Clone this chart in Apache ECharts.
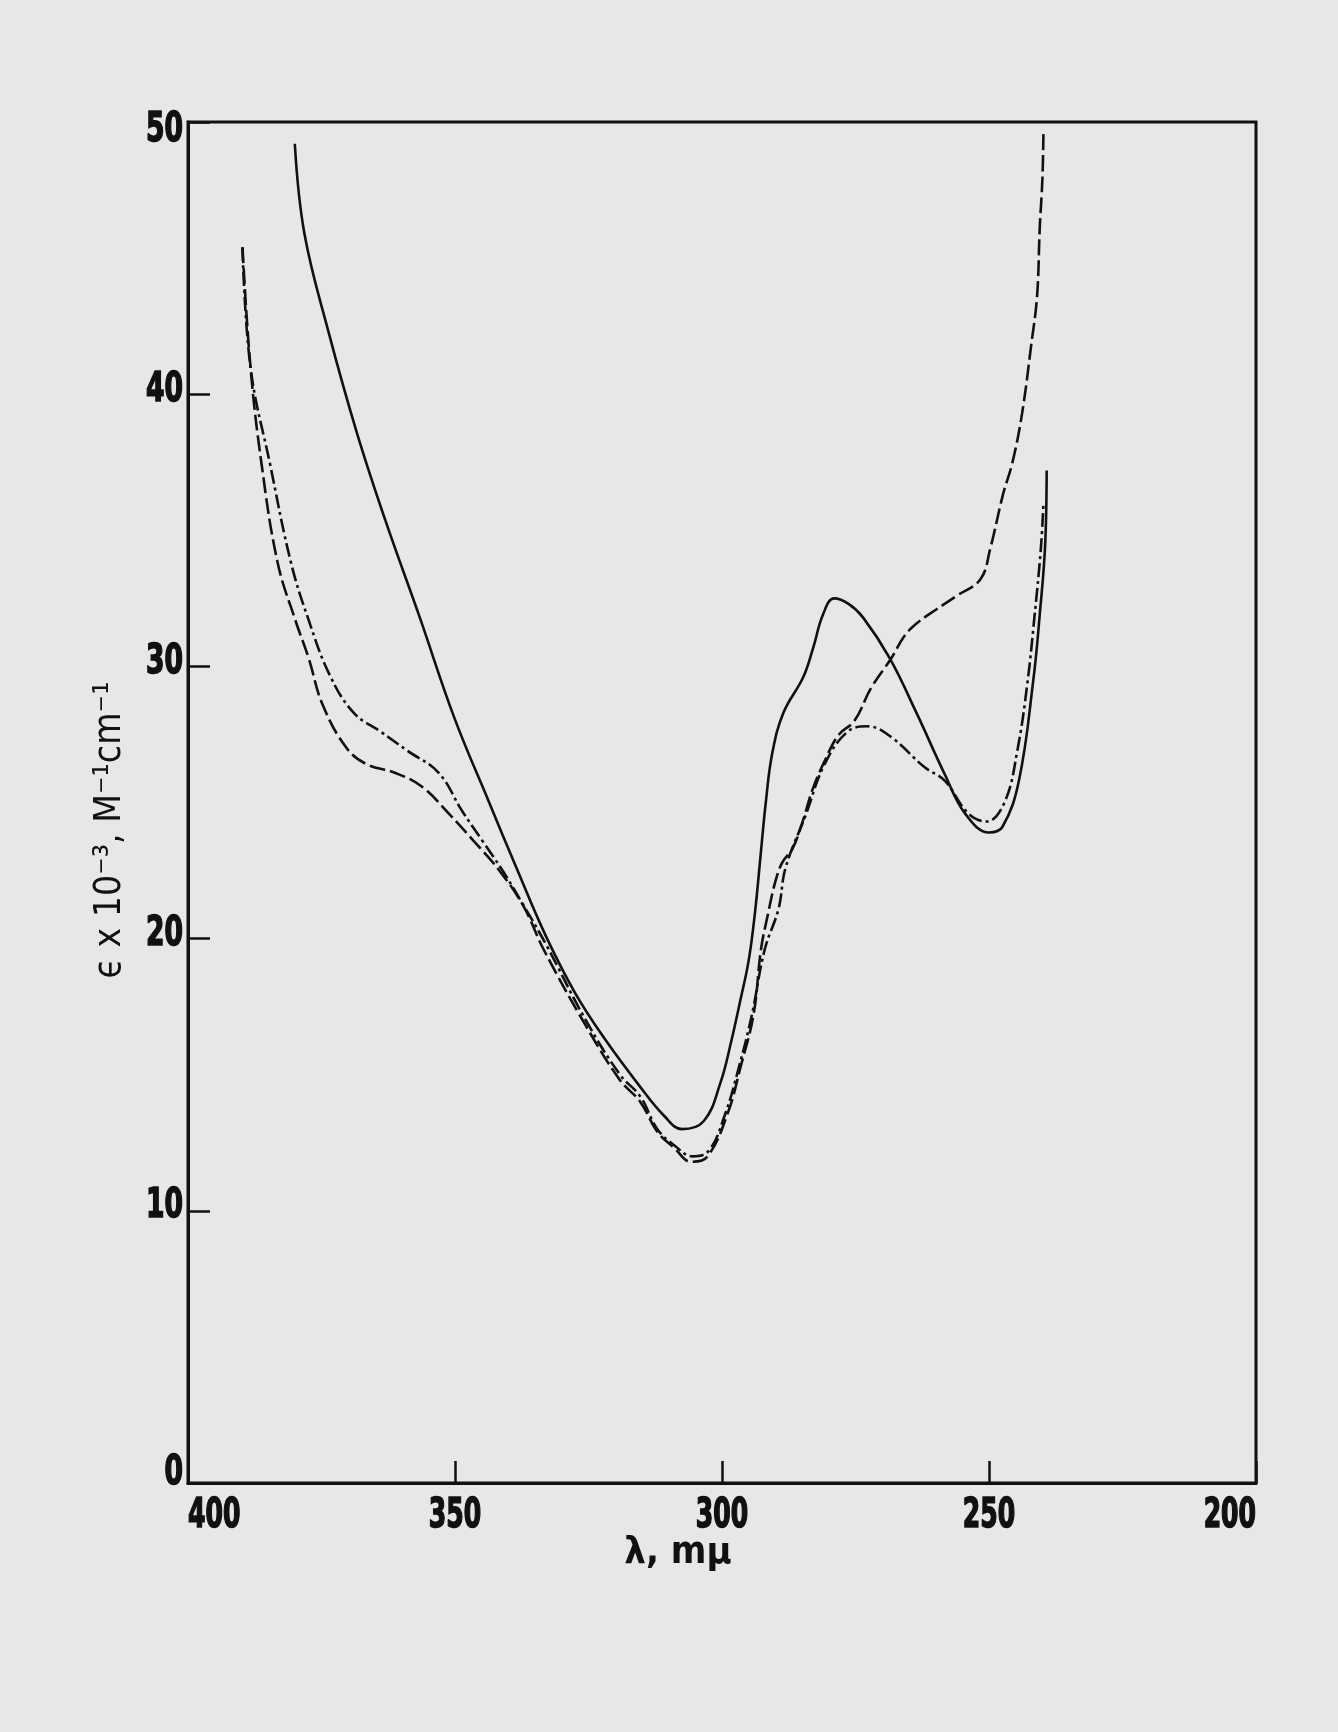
<!DOCTYPE html>
<html>
<head>
<meta charset="utf-8">
<title>Absorption spectra</title>
<script src="https://cdn.jsdelivr.net/npm/echarts@6.0.0/dist/echarts.min.js"></script>
<style>
  html, body { margin: 0; padding: 0; background: #e7e7e7; }
  #chart { width: 1338px; height: 1732px; }
</style>
</head>
<body>
<div id="chart"></div>
<script>
// wavelength (mμ) / epsilon pairs
const solidCurve = [
  [380.0, 49.2], [378.2, 45.9], [373.7, 42.3], [368.4, 38.6], [363.1, 35.4],
  [356.6, 31.8], [350.1, 28.1], [343.6, 25.0], [338.5, 22.6], [333.0, 20.1],
  [327.5, 18.0], [321.9, 16.3], [315.5, 14.6], [310.9, 13.5], [307.5, 13.0],
  [303.4, 13.3], [300.3, 14.7], [298.3, 16.2], [296.6, 17.7], [295.0, 19.2],
  [293.8, 21.0], [292.8, 23.0], [291.8, 25.0], [290.6, 26.8], [288.5, 28.3],
  [284.8, 29.6], [282.9, 30.7], [281.1, 31.9], [279.0, 32.5], [276.3, 32.3],
  [273.6, 31.8], [268.6, 30.3], [263.6, 28.3], [258.2, 26.0], [254.5, 24.6],
  [250.0, 23.9], [247.5, 24.1], [244.4, 25.8], [241.7, 29.5], [240.5, 31.9],
  [239.5, 34.4], [239.2, 37.2]
]

const dashedCurve = [
  [389.8, 45.4], [388.3, 41.0], [386.2, 37.4], [383.2, 33.8], [379.9, 31.7],
  [377.4, 30.3], [374.8, 28.6], [370.3, 27.0], [366.5, 26.4], [361.4, 26.1],
  [356.3, 25.6], [351.2, 24.6], [346.1, 23.5], [341.7, 22.5], [337.2, 21.2],
  [333.4, 19.6], [325.5, 16.8], [319.1, 14.8], [315.3, 14.0], [312.1, 12.9],
  [308.9, 12.3], [305.8, 11.8], [302.7, 12.0], [298.9, 13.6], [296.5, 15.3],
  [294.1, 17.2], [292.7, 19.6], [291.5, 20.8], [290.0, 22.1], [288.7, 22.8],
  [286.8, 23.3], [284.9, 24.3], [283.0, 25.5], [280.6, 26.6], [278.1, 27.5],
  [275.2, 28.0], [272.1, 29.2], [268.3, 30.3], [265.9, 31.1], [263.4, 31.6],
  [259.8, 32.1], [256.0, 32.6], [251.6, 33.2], [249.8, 34.3], [247.4, 36.3],
  [245.6, 37.5], [243.8, 39.3], [242.1, 41.8], [241.0, 43.6], [240.5, 46.1],
  [240.0, 47.9], [239.8, 49.7]
]

const dashDotCurve = [
  [389.8, 45.4], [388.3, 41.0], [384.6, 37.4], [380.7, 33.8], [377.4, 31.7],
  [373.5, 29.7], [369.0, 28.3], [363.9, 27.6], [358.9, 26.9], [353.1, 26.1],
  [348.7, 24.7], [344.9, 23.6], [341.1, 22.5], [337.4, 21.3], [333.0, 19.8],
  [325.5, 17.0], [319.1, 15.0], [315.3, 14.2], [312.1, 13.0], [308.9, 12.4],
  [305.5, 12.0], [302.5, 12.2], [299.5, 13.5], [296.8, 15.3], [294.4, 17.2],
  [292.0, 19.6], [289.4, 21.1], [288.1, 22.6], [284.4, 24.5], [280.8, 26.4],
  [276.5, 27.6], [272.7, 27.8], [268.3, 27.4], [262.1, 26.3], [258.3, 25.8],
  [253.9, 24.6], [250.5, 24.3], [247.1, 25.0], [244.7, 26.9], [242.8, 29.4],
  [241.5, 31.8], [240.3, 34.3], [239.8, 36.0]
]

const xTicks = [400, 350, 300, 250, 200]
const yTicks = [0, 10, 20, 30, 40, 50]
const xTitle = "λ, mμ"
const yTitle = "ϵ x 10⁻³, M⁻¹cm⁻¹"

const ink = "#111"
const labelFont = "bold 41px 'DejaVu Sans Condensed', 'DejaVu Sans', sans-serif"

const chart = echarts.init(document.getElementById("chart"))

const lineSeries = (data, dash) => ({
  type: "line",
  data: data,
  smooth: 0.4,
  showSymbol: false,
  lineStyle: { color: ink, width: 2.6, type: dash },
  z: 3
})

chart.setOption({
  backgroundColor: "#e7e7e7",
  animation: false,
  grid: {
    left: 188,
    right: 82,
    top: 122,
    bottom: 249,
    show: true,
    borderColor: ink,
    borderWidth: 3,
    backgroundColor: "transparent"
  },
  xAxis: {
    type: "value",
    inverse: true,
    min: 200,
    max: 400,
    interval: 50,
    axisLine: { lineStyle: { color: ink, width: 3 } },
    axisTick: { inside: true, length: 22, lineStyle: { color: ink, width: 2.5 } },
    splitLine: { show: false },
    axisLabel: { show: false }
  },
  yAxis: {
    type: "value",
    min: 0,
    max: 50,
    interval: 10,
    axisLine: { show: true, lineStyle: { color: ink, width: 3 } },
    axisTick: { show: true, inside: true, length: 22, lineStyle: { color: ink, width: 2.5 } },
    splitLine: { show: false },
    axisLabel: { show: false }
  },
  series: [
    lineSeries(solidCurve, "solid"),
    lineSeries(dashedCurve, [16, 5]),
    lineSeries(dashDotCurve, [14, 4, 3, 4])
  ]
})

// tick labels in a narrow heavy face, placed through the axis scales
const labelStyle = (text, align) => ({
  text: text,
  fill: ink,
  stroke: ink,
  lineWidth: 1.6,
  font: labelFont,
  align: align,
  verticalAlign: "middle"
})

const graphics = []
xTicks.forEach((v, i) => {
  const p = chart.convertToPixel({ gridIndex: 0 }, [v, 0])
  let align = "center"
  if (i === 0) align = "left"
  if (i === xTicks.length - 1) align = "right"
  graphics.push({
    type: "text",
    x: p[0],
    y: p[1] + 33,
    scaleX: 0.68,
    style: labelStyle(String(v), align)
  })
})
yTicks.forEach((v, i) => {
  const p = chart.convertToPixel({ gridIndex: 0 }, [400, v])
  let dy = -4
  if (i === 0) dy = -10
  if (i === yTicks.length - 1) dy = 8
  graphics.push({
    type: "text",
    x: p[0] - 5,
    y: p[1] + dy,
    scaleX: 0.72,
    style: labelStyle(String(v), "right")
  })
})
graphics.push({
  type: "text",
  x: 110,
  y: 830,
  rotation: Math.PI / 2,
  style: {
    text: yTitle,
    fill: ink,
    font: "37px 'DejaVu Sans Condensed', sans-serif",
    align: "center",
    verticalAlign: "middle"
  }
})
graphics.push({
  type: "text",
  x: 678,
  y: 1553,
  style: {
    text: xTitle,
    fill: ink,
    font: "bold 38px 'DejaVu Sans Condensed', sans-serif",
    align: "center",
    verticalAlign: "middle"
  }
})
chart.setOption({ graphic: graphics })
</script>
</body>
</html>
